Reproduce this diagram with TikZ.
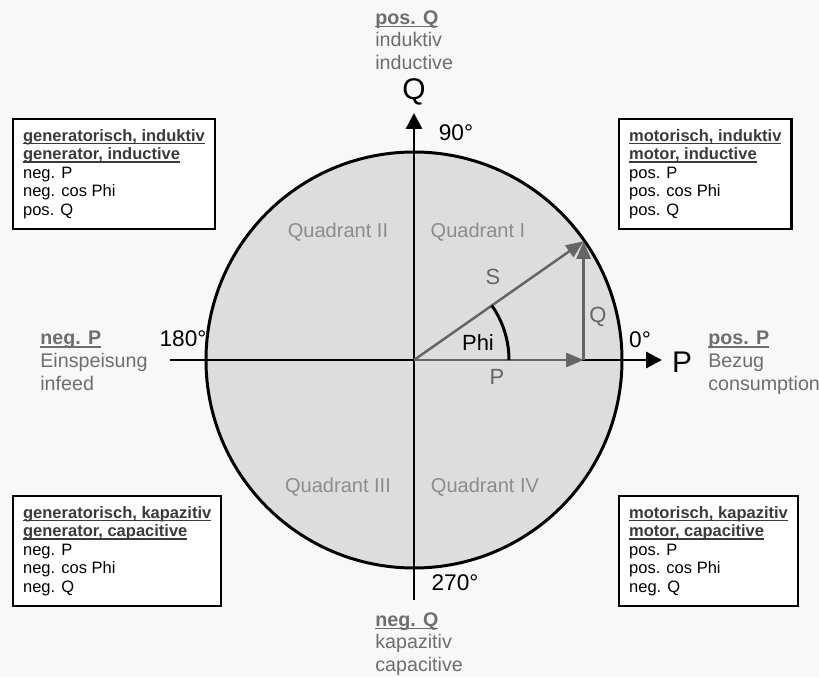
\documentclass[tikz,border=0pt]{standalone}
\usepackage{fontspec}
\setmainfont{Liberation Sans}
\usetikzlibrary{arrows.meta}
\definecolor{paper}{HTML}{F8F8F8}
\definecolor{diskgray}{HTML}{DDDDDD}
\definecolor{vecgray}{HTML}{656565}
\definecolor{labgray}{HTML}{6E6E6E}
\definecolor{quadgray}{HTML}{8C8C8C}
\definecolor{headgray}{HTML}{3A3A3A}
\newsavebox\hlbox
\newcommand{\headline}[1]{\sbox\hlbox{\textbf{#1}}\usebox\hlbox\llap{\rule[-1.7pt]{\wd\hlbox}{0.8pt}}}
\begin{document}
\begin{tikzpicture}
    [x=0.02cm,y=0.02cm,
     axis/.style={line width=1.7pt,-{Triangle[length=9pt,width=9pt]}},
     vec/.style={draw=vecgray,line width=1.4pt,-{Triangle[length=10pt,width=8pt]}},
     infobox/.style={draw,line width=1.3pt,fill=white,align=left,anchor=north west,
       inner xsep=0.2cm,inner ysep=0.2cm,font=\fontsize{9.4}{10.6}\selectfont},
     sidelabel/.style={align=left,anchor=north west,inner sep=0pt,text=labgray,
       font=\fontsize{11.2}{13}\selectfont},
     quadlabel/.style={text=quadgray,font=\fontsize{11.4}{13}\selectfont},
     veclabel/.style={text=vecgray,font=\fontsize{12.5}{14}\selectfont},
     anglabel/.style={font=\fontsize{12.9}{14}\selectfont},
     biglabel/.style={font=\fontsize{17}{19}\selectfont}]
    % frame
    \fill[paper] (-414,-317) rectangle (405,360);
    \useasboundingbox (-414,-317) rectangle (405,360);

    \coordinate (O) at (0,0);
    \coordinate (xl) at (-244,0);
    \coordinate (xr) at (248,0);
    \coordinate (yb) at (0,-240);
    \coordinate (yt) at (0,247);
    \coordinate (Ptip) at (169.6,0);
    \coordinate (Stip) at (169.6,118.7);
    \coordinate (arcstart) at (95,0);

    \fill[diskgray] (O) circle [radius=208];
    \draw[line width=1.7pt] (O) circle [radius=208];

    \node[quadlabel] (q2) at (-76,128) {Quadrant II};
    \node[quadlabel] (q1) at (64,128) {Quadrant I};
    \node[quadlabel] (q3) at (-76,-127) {Quadrant III};
    \node[quadlabel] (q4) at (71,-127) {Quadrant IV};

    \draw[axis] (xl) -- (xr);
    \draw[axis] (yb) -- (yt);

    \draw[vec] (O) -- (Ptip);
    \draw[vec] (Ptip) -- (Stip);
    \draw[vec] (O) -- (Stip);
    \draw[line width=1.7pt] (arcstart) arc [start angle=0,end angle=35,radius=95];

    \node[veclabel] (lS) at (79,83) {S};
    \node[veclabel] (lQ) at (184,43) {Q};
    \node[veclabel] (lP) at (83,-17) {P};
    \node[veclabel,text=black] (lPhi) at (64,17) {Phi};

    \node[biglabel] (Qaxis) at (0,268) {Q};
    \node[biglabel] (Paxis) at (268,-2) {P};
    \node[anglabel] (a90) at (42,227) {90°};
    \node[anglabel] (a0) at (226,20) {0°};
    \node[anglabel] (a180) at (-231,21) {180°};
    \node[anglabel] (a270) at (41,-223) {270°};

    \node[sidelabel] (posQ) at (-39,350) {\headline{pos. Q}\\induktiv\\inductive};
    \node[sidelabel] (negQ) at (-39,-252) {\headline{neg. Q}\\kapazitiv\\capacitive};
    \node[sidelabel] (negP) at (-374,29) {\headline{neg. P}\\Einspeisung\\infeed};
    \node[sidelabel] (posP) at (294,29) {\headline{pos. P}\\Bezug\\consumption};

    \node[infobox] (genind) at (-402,242)
      {\textcolor{headgray}{\headline{generatorisch, induktiv}}\\
       \textcolor{headgray}{\headline{generator, inductive}}\\
       neg. P\\neg. cos Phi\\pos. Q};
    \node[infobox] (motind) at (204,242)
      {\textcolor{headgray}{\headline{motorisch, induktiv}}\\
       \textcolor{headgray}{\headline{motor, inductive}}\\
       pos. P\\pos. cos Phi\\pos. Q};
    \node[infobox] (genkap) at (-402,-135)
      {\textcolor{headgray}{\headline{generatorisch, kapazitiv}}\\
       \textcolor{headgray}{\headline{generator, capacitive}}\\
       neg. P\\neg. cos Phi\\neg. Q};
    \node[infobox] (motkap) at (204,-135)
      {\textcolor{headgray}{\headline{motorisch, kapazitiv}}\\
       \textcolor{headgray}{\headline{motor, capacitive}}\\
       pos. P\\pos. cos Phi\\neg. Q};
\end{tikzpicture}
\end{document}
